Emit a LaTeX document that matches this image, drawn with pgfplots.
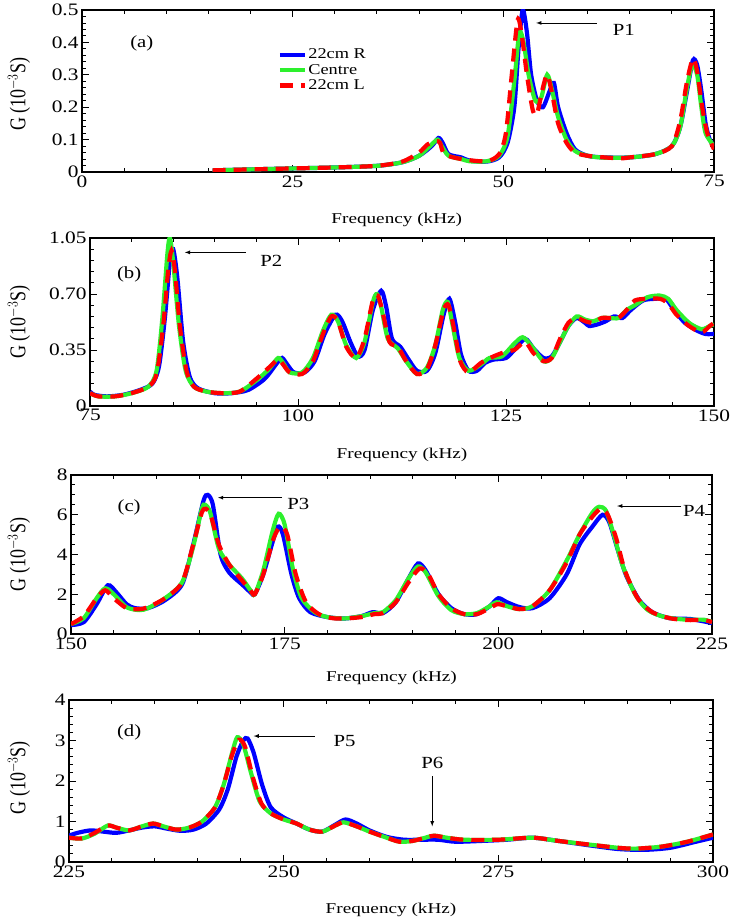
\documentclass[border=0pt]{standalone}
\usepackage{fontspec}
\setmainfont{Liberation Serif}
\usepackage{graphicx}
\usepackage{pgfplots}
\pgfplotsset{compat=1.18}
\definecolor{cR}{RGB}{0,0,255}
\definecolor{cC}{RGB}{45,240,45}
\definecolor{cL}{RGB}{255,0,0}
\newcommand{\hs}[1]{\scalebox{1.22}[1]{#1}}
\newcommand{\hl}[1]{\scalebox{1.28}[1]{#1}}
\newcommand{\tk}{\fontsize{17.5}{17.5}\selectfont}
\newcommand{\ylab}{\scalebox{1}[1.25]{\fontsize{18}{18}\selectfont G (10$^{\mathsf{-}3}$S)}}
\tikzset{ann/.style={font=\fontsize{17}{17}\selectfont}}
\pgfplotsset{
  panel/.style={
    scale only axis, axis line style={line width=1.3pt},
    tick style={line width=0.9pt, black},
    major tick length=7pt, minor tick length=4pt,
    minor x tick num=4,
    /pgf/number format/assume math mode=true,
    ticklabel style={font=\tk},
    xlabel={\hl{\fontsize{15}{15}\selectfont Frequency (kHz)}},
    ylabel={\ylab},
    ylabel style={anchor=center},
    xlabel style={anchor=center},
    legend image code/.code={\draw[#1] (0pt,0pt) -- (25pt,0pt);},
  },
  sR/.style={cR, line width=4.2pt, smooth, tension=0.45},
  sC/.style={cC, line width=4.2pt, smooth, tension=0.45},
  sL/.style={cL, line width=4.2pt, dash pattern=on 13pt off 8pt, smooth, tension=0.45},
}
\begin{document}
\begin{tikzpicture}
\useasboundingbox (0pt,0pt) rectangle (733pt,918pt);
% ---------------- (a)
\begin{axis}[panel, at={(82pt,746pt)}, anchor=south west, width=632pt, height=162pt,
  xmin=0, xmax=75, ymin=0, ymax=0.5,
  xtick={0,25,50,75}, xticklabels={\hs{0},\hs{25},\hs{50},\hs{75}},
  ytick={0,0.1,0.2,0.3,0.4,0.5}, yticklabels={\hs{0},\hs{0.1},\hs{0.2},\hs{0.3},\hs{0.4},\hs{0.5}},
  minor y tick num=4,
  xlabel style={at={(axis description cs:0.498,-0.296)}},
  ylabel style={at={(axis description cs:-0.0997,0.48)}},
  legend style={at={(axis cs:23.2,0.385)}, anchor=north west, draw=none, fill=none,
    font=\fontsize{15}{15}\selectfont, row sep=1pt, inner sep=0pt,
    nodes={inner sep=1.5pt}},
  legend cell align=left,
]
\addplot[sR] coordinates {(15.5,0.005)(20,0.008)(25,0.011)(30,0.014)(35,0.019)(38,0.03)(40,0.05)(41.5,0.08)(42.3,0.105)(42.8,0.09)(43.5,0.055)(45,0.045)(46,0.035)(48,0.032)(49.5,0.045)(50.5,0.09)(51.3,0.2)(51.8,0.38)(52.3,0.5)(52.8,0.43)(53.3,0.3)(54,0.22)(54.7,0.2)(55.5,0.25)(56,0.275)(56.5,0.2)(57.5,0.12)(58.5,0.07)(60,0.05)(62,0.045)(65,0.045)(68,0.055)(70,0.08)(71,0.14)(71.8,0.25)(72.5,0.345)(73,0.33)(73.5,0.25)(74,0.15)(74.5,0.1)(75,0.08)};
\addlegendentry{\hs{22cm R}}
\addplot[sC] coordinates {(15.5,0.005)(20,0.008)(25,0.011)(30,0.014)(35,0.019)(38,0.03)(40,0.05)(41.5,0.085)(42.2,0.1)(42.7,0.08)(43.5,0.05)(45,0.04)(46,0.033)(48,0.033)(49.5,0.05)(50.5,0.11)(51.3,0.28)(51.9,0.43)(52.4,0.4)(53,0.3)(53.8,0.22)(54.5,0.23)(55.2,0.3)(55.8,0.25)(56.5,0.17)(57.5,0.1)(58.5,0.065)(60,0.05)(62,0.044)(65,0.045)(68,0.055)(70,0.08)(71,0.14)(71.8,0.26)(72.4,0.33)(73,0.3)(73.5,0.2)(74,0.12)(75,0.08)};
\addlegendentry{\hs{Centre}}
\addplot[sL] coordinates {(15.5,0.005)(20,0.008)(25,0.011)(30,0.014)(35,0.019)(38,0.032)(40,0.06)(41,0.085)(42,0.095)(42.5,0.09)(43,0.055)(45,0.04)(48,0.033)(49.5,0.055)(50.3,0.12)(51,0.3)(51.7,0.47)(52.2,0.42)(52.8,0.3)(53.5,0.19)(54,0.18)(54.6,0.25)(55.2,0.3)(55.8,0.24)(56.5,0.15)(57.5,0.09)(58.5,0.06)(60,0.05)(62,0.045)(64,0.042)(65,0.045)(68,0.055)(70,0.08)(71,0.16)(71.8,0.28)(72.5,0.35)(73,0.31)(73.6,0.2)(74.2,0.12)(75,0.07)};
\addlegendentry{\hs{22cm L}}
\draw[-latex, thick] (axis cs:61.1,0.46) -- (axis cs:53.9,0.46);
\node[ann] at (axis cs:64.3,0.438) {\hs{P1}};
\node[ann] at (axis cs:7.1,0.398) {\hs{(a)}};
\end{axis}
% ---------------- (b)
\begin{axis}[panel, at={(90pt,512pt)}, anchor=south west, width=624pt, height=168pt,
  xmin=75, xmax=150, ymin=0, ymax=1.05,
  xtick={75,100,125,150}, xticklabels={\hs{75},\hs{100},\hs{125},\hs{150}},
  ytick={0,0.35,0.7,1.05}, yticklabels={\hs{0},\hs{0.35},\hs{0.70},\hs{1.05}},
  minor y tick num=4,
  xlabel style={at={(axis description cs:0.5,-0.292)}},
  ylabel style={at={(axis description cs:-0.1138,0.5)}},
]
\addplot[sR] coordinates {(75,0.09)(75.5,0.07)(77,0.06)(79,0.07)(81,0.1)(82.5,0.14)(83.3,0.25)(84,0.55)(84.6,0.9)(85.0,0.98)(85.5,0.8)(86.2,0.4)(87,0.18)(88,0.11)(90,0.08)(92,0.08)(94,0.1)(96,0.17)(97.5,0.27)(98.1,0.3)(98.7,0.26)(99.5,0.21)(100.8,0.21)(102,0.28)(103.2,0.45)(104.5,0.57)(105.3,0.53)(106.3,0.4)(107.2,0.31)(108,0.35)(109,0.6)(110,0.72)(110.6,0.62)(111.3,0.42)(112.3,0.37)(113.3,0.29)(114.3,0.22)(115.5,0.22)(116.5,0.33)(117.5,0.57)(118.2,0.67)(118.9,0.52)(119.6,0.32)(120.5,0.22)(121.5,0.22)(122.5,0.27)(123.5,0.29)(125,0.3)(126,0.35)(127.3,0.42)(128.3,0.36)(129.5,0.3)(130.5,0.31)(131.5,0.4)(132.5,0.5)(133.5,0.55)(134.5,0.52)(135,0.5)(136,0.51)(137,0.53)(138,0.56)(139,0.55)(140,0.6)(141.5,0.66)(143,0.67)(144.2,0.67)(145.2,0.6)(146.5,0.52)(148,0.47)(149,0.45)(150,0.45)};
\addplot[sC] coordinates {(75,0.08)(76,0.06)(78,0.06)(80,0.08)(82,0.12)(83,0.22)(83.7,0.55)(84.3,0.95)(84.6,1.05)(85.0,0.9)(85.7,0.5)(86.5,0.22)(87.5,0.12)(89,0.09)(91,0.08)(93,0.09)(95,0.16)(96.5,0.23)(97.6,0.3)(98.2,0.27)(99,0.21)(100.5,0.21)(101.8,0.3)(103,0.47)(104,0.57)(104.8,0.53)(105.8,0.38)(107,0.3)(108,0.4)(109,0.65)(109.5,0.7)(110,0.62)(110.8,0.42)(112,0.36)(113,0.28)(114.3,0.2)(115.5,0.24)(116.5,0.38)(117.4,0.6)(118,0.65)(118.6,0.5)(119.4,0.3)(120.5,0.22)(122,0.26)(123,0.3)(124.5,0.31)(126,0.39)(127,0.43)(128,0.38)(129.5,0.28)(130.5,0.3)(131.5,0.4)(132.5,0.5)(133.5,0.56)(134.5,0.54)(135.5,0.53)(136.5,0.55)(137.5,0.55)(138.5,0.55)(139.5,0.6)(140.5,0.63)(142,0.68)(143.5,0.69)(144.5,0.67)(145.5,0.6)(147,0.52)(148.5,0.48)(149.5,0.5)(150,0.51)};
\addplot[sL] coordinates {(75,0.08)(76,0.06)(78,0.06)(80,0.08)(82,0.12)(83,0.2)(83.8,0.5)(84.4,0.85)(84.8,0.97)(85.2,0.85)(85.8,0.5)(86.6,0.22)(87.5,0.12)(89,0.09)(91,0.08)(93,0.09)(95,0.17)(96.5,0.24)(97.6,0.29)(98.2,0.26)(99,0.21)(100.5,0.2)(101.8,0.28)(103,0.45)(104,0.56)(104.8,0.53)(105.8,0.37)(107,0.3)(108,0.42)(109,0.66)(109.6,0.69)(110.2,0.58)(111,0.4)(112,0.37)(113,0.28)(114.3,0.2)(115.5,0.23)(116.5,0.38)(117.5,0.6)(118.1,0.63)(118.8,0.47)(119.5,0.28)(120.5,0.21)(122,0.27)(123.5,0.31)(125,0.34)(126,0.35)(127.3,0.4)(128.3,0.33)(129.5,0.28)(130.5,0.3)(131.5,0.42)(132.5,0.52)(133.5,0.55)(134.5,0.53)(135.5,0.52)(136.5,0.55)(137.5,0.55)(138.5,0.55)(139.5,0.6)(140.5,0.66)(142,0.67)(143.5,0.67)(144.5,0.64)(145.5,0.57)(147,0.5)(148.5,0.46)(149.5,0.5)(150,0.52)};
\draw[-latex, thick] (axis cs:93.75,0.96) -- (axis cs:86.4,0.96);
\node[ann] at (axis cs:96.8,0.91) {\hs{P2}};
\node[ann] at (axis cs:79.7,0.82) {\hs{(b)}};
\end{axis}
% ---------------- (c)
\begin{axis}[panel, at={(71pt,284pt)}, anchor=south west, width=641pt, height=159pt,
  xmin=150, xmax=225, ymin=0, ymax=8,
  xtick={150,175,200,225}, xticklabels={\hs{150},\hs{175},\hs{200},\hs{225}},
  ytick={0,2,4,6,8}, yticklabels={\hs{0},\hs{2},\hs{4},\hs{6},\hs{8}},
  minor y tick num=3,
  xlabel style={at={(axis description cs:0.5,-0.277)}},
  ylabel style={at={(axis description cs:-0.0811,0.5)}},
]
\addplot[sR] coordinates {(150,0.45)(151.5,0.6)(153,1.5)(154.3,2.45)(155.3,2.1)(156.5,1.5)(157.5,1.3)(159,1.3)(161,1.7)(163,2.5)(164.3,4.5)(165.5,6.7)(166,7.0)(166.6,6.5)(167.5,4.0)(168.5,3.1)(170,2.5)(171,2.1)(171.5,2.0)(172.5,3.0)(173.5,4.5)(174.2,5.4)(174.8,5.0)(175.8,3.0)(176.7,1.8)(178,1.1)(180,0.85)(182,0.78)(184,0.9)(185.3,1.1)(186.5,1.05)(188,1.6)(189.5,2.8)(190.6,3.55)(191.5,3.2)(193,2.0)(194.5,1.3)(196,1.0)(197.5,1.0)(199,1.4)(200,1.8)(201,1.6)(202.5,1.35)(204,1.3)(206,1.8)(208,3.0)(209.5,4.5)(211,5.4)(212.2,6.0)(213,5.6)(214,4.2)(215,2.9)(216.5,1.7)(218,1.1)(220,0.8)(222.5,0.75)(225,0.55)};
\addplot[sC] coordinates {(150,0.5)(151.5,0.8)(153,1.8)(154,2.3)(155,2.0)(156.5,1.35)(158,1.2)(159,1.3)(161,1.8)(163,2.6)(164.3,4.4)(165.3,6.3)(165.7,6.5)(166.3,6.1)(167.3,4.3)(168.5,3.5)(170,2.8)(171,2.2)(171.5,2.0)(172.5,3.2)(173.6,5.2)(174.3,6.05)(175,5.5)(176,3.2)(177,1.8)(178.5,1.1)(180,0.85)(182,0.78)(184,0.9)(185.5,1.05)(186.5,1.1)(188,1.7)(189.5,2.8)(190.6,3.4)(191.5,3.1)(193,1.9)(194.5,1.2)(196,1.0)(197.5,1.05)(199,1.4)(199.8,1.6)(201,1.4)(202.5,1.25)(204,1.4)(206,2.2)(208,3.7)(209.5,5.0)(211,6.1)(211.8,6.4)(212.6,6.2)(213.5,5.0)(214.5,3.5)(216,2.0)(217.5,1.2)(219.5,0.85)(222,0.72)(224,0.72)(225,0.6)};
\addplot[sL] coordinates {(150,0.5)(151.5,0.9)(153,1.8)(154,2.2)(155,1.8)(156.5,1.3)(158,1.25)(159,1.35)(161,1.8)(163,2.6)(164.3,4.5)(165.3,6.1)(165.8,6.3)(166.4,5.9)(167.3,4.5)(168.5,3.5)(170,2.7)(171,2.2)(171.5,2.0)(172.5,3.0)(173.7,4.8)(174.5,5.4)(175.3,5.0)(176.3,3.0)(177.5,1.6)(179,1.0)(180.5,0.8)(182,0.78)(184,0.85)(185.5,1.0)(186.5,1.05)(188,1.6)(189.5,2.6)(190.8,3.3)(191.8,3.0)(193,2.0)(194.5,1.3)(196,1.0)(197.5,1.0)(199,1.3)(199.9,1.5)(201,1.4)(202.5,1.25)(204,1.4)(206,2.2)(208,3.6)(209.5,5.0)(211,5.9)(212,6.3)(212.8,6.0)(213.8,4.8)(214.8,3.2)(216.3,1.8)(218,1.1)(220,0.8)(222,0.7)(224,0.7)(225,0.6)};
\draw[-latex, thick] (axis cs:174.7,6.86) -- (axis cs:167.2,6.86);
\node[ann] at (axis cs:176.6,6.55) {\hs{P3}};
\draw[-latex, thick] (axis cs:221.4,6.44) -- (axis cs:213.9,6.44);
\node[ann] at (axis cs:222.9,6.2) {\hs{P4}};
\node[ann] at (axis cs:156.8,6.39) {\hs{(c)}};
\end{axis}
% ---------------- (d)
\begin{axis}[panel, at={(69pt,56pt)}, anchor=south west, width=644pt, height=162pt,
  xmin=225, xmax=300, ymin=0, ymax=4,
  xtick={225,250,275,300}, xticklabels={\hs{225},\hs{250},\hs{275},\hs{300}},
  ytick={0,1,2,3,4}, yticklabels={\hs{0},\hs{1},\hs{2},\hs{3},\hs{4}},
  minor y tick num=4,
  xlabel style={at={(axis description cs:0.5,-0.298)}},
  ylabel style={at={(axis description cs:-0.0776,0.52)}},
]
\addplot[sR] coordinates {(225,0.65)(226,0.72)(227.5,0.78)(229,0.75)(230.5,0.72)(232,0.78)(233.5,0.85)(235,0.88)(236.5,0.82)(238,0.77)(239.5,0.8)(241,0.95)(242.5,1.3)(243.5,1.8)(244.5,2.6)(245.3,3.0)(245.8,3.05)(246.5,2.7)(247.5,1.9)(248.5,1.35)(250,1.1)(251.5,0.95)(253,0.8)(254.5,0.75)(256,0.92)(257.2,1.05)(258.5,0.95)(260,0.78)(262,0.62)(264,0.55)(266,0.55)(268,0.55)(270,0.5)(273,0.52)(276,0.55)(279,0.6)(282,0.52)(286,0.4)(289,0.32)(292,0.3)(295,0.35)(298,0.5)(300,0.6)};
\addplot[sC] coordinates {(225,0.6)(226.5,0.58)(228,0.7)(229.5,0.9)(230.5,0.85)(232,0.78)(233.5,0.88)(234.8,0.95)(236,0.88)(237.5,0.8)(239,0.85)(240.5,1.0)(242,1.35)(243,1.9)(244,2.7)(244.6,3.08)(245.3,2.9)(246.2,2.2)(247.2,1.5)(248.5,1.2)(250,1.05)(251.5,0.95)(253,0.8)(254.5,0.75)(256,0.9)(257,0.98)(258.5,0.88)(260,0.75)(262,0.6)(263.5,0.5)(265,0.52)(266.5,0.6)(267.5,0.65)(269,0.6)(271,0.55)(275,0.55)(279,0.6)(282,0.52)(286,0.42)(289,0.35)(291,0.33)(294,0.38)(297,0.5)(300,0.68)};
\addplot[sL] coordinates {(225,0.6)(226.5,0.58)(228,0.72)(229.5,0.9)(230.5,0.85)(232,0.78)(233.5,0.88)(234.8,0.95)(236,0.88)(237.5,0.8)(239,0.85)(240.5,1.0)(242,1.35)(243,1.9)(244,2.65)(244.8,3.02)(245.5,2.85)(246.4,2.1)(247.4,1.45)(248.5,1.2)(250,1.05)(251.5,0.95)(253,0.8)(254.5,0.75)(256,0.9)(257,0.98)(258.5,0.88)(260,0.75)(262,0.6)(263.5,0.5)(265,0.52)(266.5,0.6)(267.5,0.65)(269,0.6)(271,0.55)(275,0.55)(279,0.6)(282,0.52)(286,0.42)(289,0.35)(291,0.33)(294,0.38)(297,0.5)(300,0.68)};
\draw[-latex, thick] (axis cs:253.6,3.11) -- (axis cs:246.5,3.11);
\node[ann] at (axis cs:257.1,2.99) {\hs{P5}};
\draw[-latex, thick] (axis cs:267.3,2.12) -- (axis cs:267.3,0.88);
\node[ann] at (axis cs:267.3,2.45) {\hs{P6}};
\node[ann] at (axis cs:232.0,3.2) {\hs{(d)}};
\end{axis}
\end{tikzpicture}
\end{document}
